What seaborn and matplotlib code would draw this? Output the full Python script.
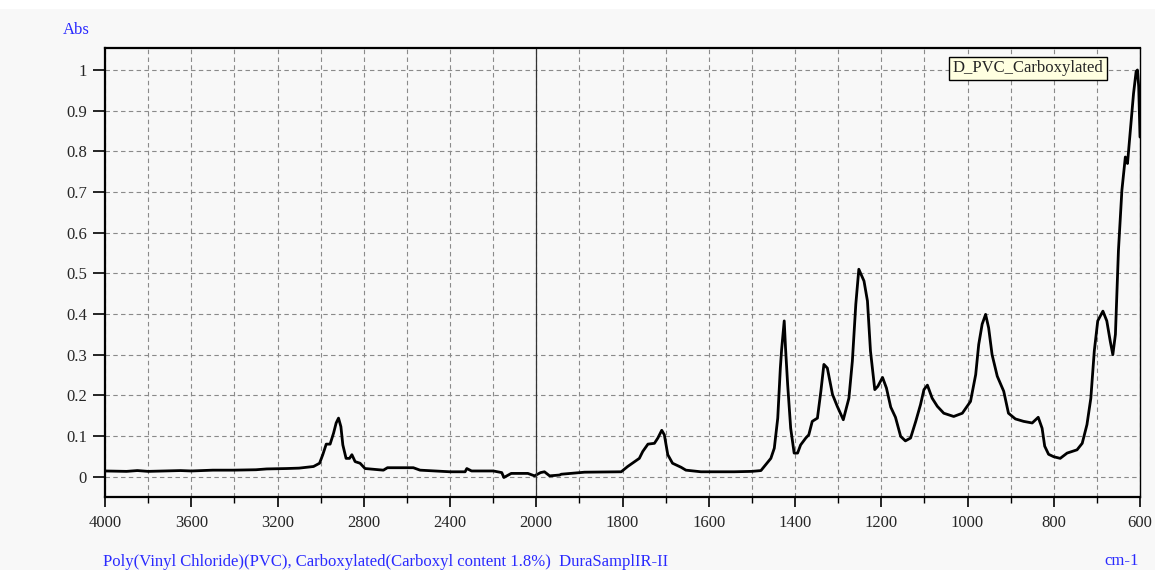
import numpy as np
import pandas as pd
import matplotlib
matplotlib.use("Agg")
import matplotlib.pyplot as plt
import seaborn as sns
from matplotlib.patches import Rectangle

# -------------------------
# DATA
# -------------------------
wavenumber = [4000, 3900, 3850, 3800, 3714, 3650, 3600, 3500, 3405, 3300,
              3250, 3157, 3100, 3033, 3005, 2990, 2974, 2956, 2940, 2928,
              2917, 2906, 2897, 2882, 2866, 2855, 2840, 2817, 2794, 2709,
              2690, 2570, 2539, 2400, 2330, 2322, 2300, 2199, 2160, 2150,
              2130, 2116, 2039, 2008, 1990, 1981, 1969, 1946, 1942, 1900,
              1888, 1803, 1788, 1772, 1761, 1753, 1741, 1726, 1718, 1709,
              1703, 1695, 1684, 1664, 1653, 1618, 1541, 1500, 1479, 1456,
              1448, 1440, 1434, 1431, 1425, 1422, 1417, 1410, 1402, 1394,
              1387, 1375, 1368, 1360, 1348, 1340, 1333, 1325, 1313, 1302,
              1288, 1275, 1267, 1259, 1252, 1240, 1232, 1225, 1215, 1208,
              1197, 1188, 1178, 1167, 1155, 1144, 1132, 1120, 1109, 1101,
              1093, 1082, 1070, 1055, 1032, 1012, 993, 981, 974, 966,
              958, 951, 943, 931, 916, 905, 889, 870, 850, 836,
              827, 821, 812, 800, 785, 769, 746, 734, 723, 714,
              706, 698, 686, 677, 669, 663, 657, 650, 642, 634,
              629, 623, 615, 609, 606, 603, 600]
absorbance = [0.014, 0.013, 0.015, 0.013, 0.014, 0.015, 0.014, 0.016, 0.016, 0.017,
              0.019, 0.020, 0.021, 0.025, 0.033, 0.054, 0.080, 0.080, 0.107, 0.132,
              0.144, 0.123, 0.078, 0.045, 0.045, 0.054, 0.037, 0.033, 0.020, 0.016,
              0.022, 0.022, 0.016, 0.012, 0.012, 0.020, 0.014, 0.014, 0.010, -0.002,
              0.004, 0.008, 0.008, 0.002, 0.010, 0.012, 0.002, 0.004, 0.006, 0.010,
              0.011, 0.012, 0.025, 0.037, 0.045, 0.062, 0.080, 0.082, 0.095, 0.114,
              0.103, 0.054, 0.033, 0.023, 0.016, 0.012, 0.012, 0.013, 0.015, 0.045,
              0.070, 0.144, 0.267, 0.313, 0.383, 0.317, 0.226, 0.119, 0.058, 0.058,
              0.078, 0.095, 0.103, 0.136, 0.144, 0.210, 0.276, 0.267, 0.202, 0.173,
              0.140, 0.193, 0.284, 0.424, 0.510, 0.481, 0.432, 0.309, 0.214, 0.222,
              0.244, 0.218, 0.171, 0.146, 0.099, 0.088, 0.095, 0.136, 0.177, 0.214,
              0.225, 0.193, 0.173, 0.156, 0.148, 0.156, 0.185, 0.251, 0.325, 0.375,
              0.399, 0.366, 0.300, 0.247, 0.210, 0.156, 0.142, 0.136, 0.132, 0.146,
              0.119, 0.075, 0.055, 0.049, 0.045, 0.058, 0.066, 0.082, 0.128, 0.193,
              0.309, 0.383, 0.407, 0.383, 0.333, 0.300, 0.350, 0.556, 0.704, 0.786,
              0.770, 0.844, 0.942, 0.996, 1.000, 0.959, 0.835]

x_major = [4000, 3600, 3200, 2800, 2400, 2000, 1800, 1600, 1400, 1200, 1000, 800, 600]
x_minor = [3800, 3400, 3000, 2600, 2200, 1900, 1700, 1500, 1300, 1100, 900, 700]
y_ticks = [0, 0.1, 0.2, 0.3, 0.4, 0.5, 0.6, 0.7, 0.8, 0.9, 1]
y_labels = ["0", "0.1", "0.2", "0.3", "0.4", "0.5", "0.6", "0.7", "0.8", "0.9", "1"]

df = pd.DataFrame({"Wavenumber": wavenumber, "Abs": absorbance})


# half scale above 2000 cm-1
def fwd(x):
    x = np.asarray(x, dtype=float)
    return np.where(x > 2000, 2000 + (x - 2000) / 2, x)


def inv(t):
    t = np.asarray(t, dtype=float)
    return np.where(t > 2000, 2000 + (t - 2000) * 2, t)


# -------------------------
# PLOT
# -------------------------
sns.set_style("white")
plt.rcParams['font.family'] = ['Liberation Serif', 'DejaVu Serif']

bg = "#f8f8f8"
fs = 12
fig = plt.figure(figsize=(11.55, 5.70), dpi=100, facecolor=bg)
fig.add_artist(Rectangle((0, 1 - 9 / 570), 1, 9 / 570, transform=fig.transFigure,
                         facecolor="white", edgecolor="none"))
ax = fig.add_axes([105 / 1155, 1 - 497 / 570, (1140 - 105) / 1155, (497 - 48) / 570])
ax.set_facecolor(bg)

ax.set_xscale("function", functions=(fwd, inv))

sns.lineplot(data=df, x="Wavenumber", y="Abs", estimator=None, sort=False,
             color="black", linewidth=2.0, ax=ax, label="D_PVC_Carboxylated")

ax.set_xlim(4000, 600)
ax.set_ylim(-0.05, 1.054)

ax.set_xticks(x_major)
ax.set_xticklabels([str(v) for v in x_major])
ax.set_xticks(x_minor, minor=True)
ax.set_yticks(y_ticks)
ax.set_yticklabels(y_labels)

ax.grid(which="both", axis="x", color="#8a8a8a", linestyle=(0, (4, 3)), linewidth=0.8)
ax.grid(which="major", axis="y", color="#8a8a8a", linestyle=(0, (4, 3)), linewidth=0.8)
ax.axvline(2000, color="#333333", linewidth=0.9)

ax.tick_params(axis="y", which="major", direction="out", length=9, width=1.2,
               pad=4, labelsize=fs, left=True, color="black")
ax.tick_params(axis="x", which="major", direction="out", length=7, width=1.2,
               pad=6, labelsize=fs, bottom=True, color="black")
ax.tick_params(axis="x", which="minor", direction="out", length=4, width=1.0,
               bottom=True, color="black")

for side in ["left", "bottom", "top"]:
    ax.spines[side].set_linewidth(1.6)
    ax.spines[side].set_color("black")
ax.spines["right"].set_linewidth(1.0)
ax.spines["right"].set_color("black")

ax.set_xlabel("")
ax.set_ylabel("")

leg = ax.legend(loc="upper right", bbox_to_anchor=(0.968, 0.98), handlelength=0,
                handletextpad=0, fancybox=False, framealpha=1, edgecolor="black",
                facecolor="#ffffe0", fontsize=fs, borderpad=0.2, borderaxespad=0)
leg.get_frame().set_linewidth(1.0)
for h in leg.legend_handles:
    h.set_visible(False)

blue = "#2a2aff"
fig.text(76 / 1155, 1 - 30 / 570, "Abs", color=blue, fontsize=fs, ha="center", va="center")
fig.text(103 / 1155, 1 - 562 / 570,
         "Poly(Vinyl Chloride)(PVC), Carboxylated(Carboxyl content 1.8%)  DuraSamplIR-II",
         color=blue, fontsize=fs, ha="left", va="center")
fig.text(1139 / 1155, 1 - 561 / 570, "cm-1", color=blue, fontsize=fs, ha="right", va="center")

plt.savefig("out.png", dpi=100, facecolor=bg)
